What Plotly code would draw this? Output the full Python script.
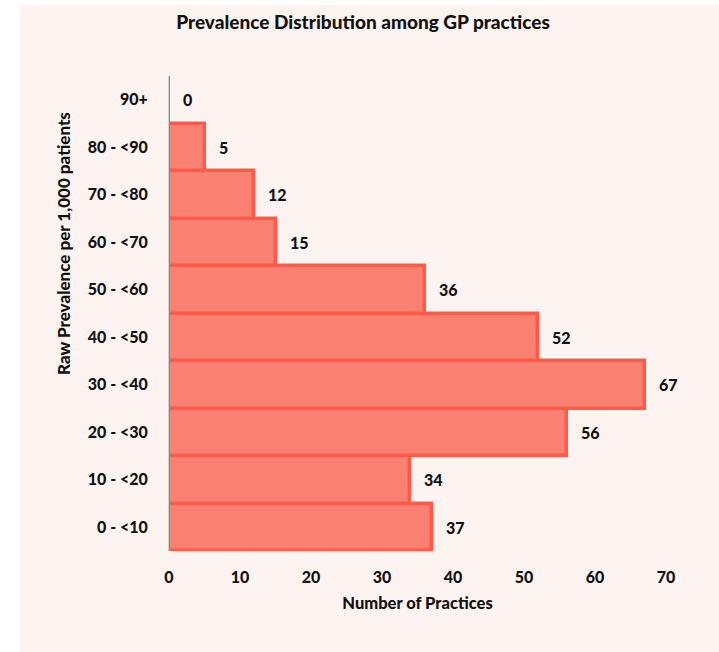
import plotly.graph_objects as go

# Prevalence bands (bottom to top) and the number of GP practices in each
bands = ["0 - <10", "10 - <20", "20 - <30", "30 - <40", "40 - <50",
         "50 - <60", "60 - <70", "70 - <80", "80 - <90", "90+"]
practices = [37, 34, 56, 67, 52, 36, 15, 12, 5, 0]
x_ticks = [0, 10, 20, 30, 40, 50, 60, 70]

W, H = 719, 652
ML, MR, MT, MB = 169, 53, 76, 101
FONT = "Lato Black, Lato"
TXT = "#111111"
BG = "#fdf4f2"

fig = go.Figure()
fig.add_trace(go.Bar(
    x=practices,
    y=bands,
    orientation="h",
    marker=dict(color="#fa8072", line=dict(color="#fe5a4a", width=3.5)),
    hoverinfo="x+y",
))

# Value labels just past the end of each bar
annotations = [
    dict(x=v, y=b, xref="x", yref="y", text=f"<b>{v}</b>", showarrow=False,
         xanchor="left", xshift=12, font=dict(family=FONT, size=16, color=TXT))
    for v, b in zip(practices, bands)
]

# Rotated y-axis title
plot_h = H - MT - MB
annotations.append(dict(
    x=(63 - ML) / (W - ML - MR), y=1 - (244 - MT) / plot_h,
    xref="paper", yref="paper", text="<b>Raw Prevalence per 1,000 patients</b>",
    showarrow=False, textangle=-90, xanchor="center", yanchor="middle",
    font=dict(family=FONT, size=17, color=TXT),
))

plot_w = W - ML - MR
# Light panel behind the chart
shapes = [dict(
    type="rect", xref="paper", yref="paper", layer="below",
    x0=(20 - ML) / plot_w, x1=(W - ML) / plot_w,
    y0=1 + (MT - 5) / plot_h, y1=-(MB) / plot_h,
    fillcolor=BG, line=dict(width=0),
)]

fig.update_layout(
    width=W, height=H,
    margin=dict(l=ML, r=MR, t=MT, b=MB),
    paper_bgcolor="white", plot_bgcolor="rgba(0,0,0,0)",
    bargap=0,
    showlegend=False,
    title=dict(text="<b>Prevalence Distribution among GP practices</b>",
               x=363 / W, xanchor="center", y=1 - 22 / H, yanchor="middle",
               font=dict(family=FONT, size=19, color=TXT)),
    xaxis=dict(range=[0, 70], tickvals=x_ticks,
               ticktext=[f"<b>{t}</b>" for t in x_ticks],
               showgrid=False, zeroline=False,
               showline=False, ticks="", ticklabelstandoff=15,
               tickfont=dict(family=FONT, size=16, color=TXT),
               title=dict(text="<b>Number of Practices</b>", standoff=12,
                          font=dict(family=FONT, size=16.5, color=TXT))),
    yaxis=dict(categoryorder="array", categoryarray=bands,
               tickvals=bands, ticktext=[f"<b>{b}</b>" for b in bands],
               showgrid=False,
               zeroline=False, showline=True, linecolor="#d0d0d0", linewidth=1,
               ticks="", ticklabelstandoff=17,
               tickfont=dict(family=FONT, size=16, color=TXT)),
    annotations=annotations,
    shapes=shapes,
)

fig.write_html("out.html")
